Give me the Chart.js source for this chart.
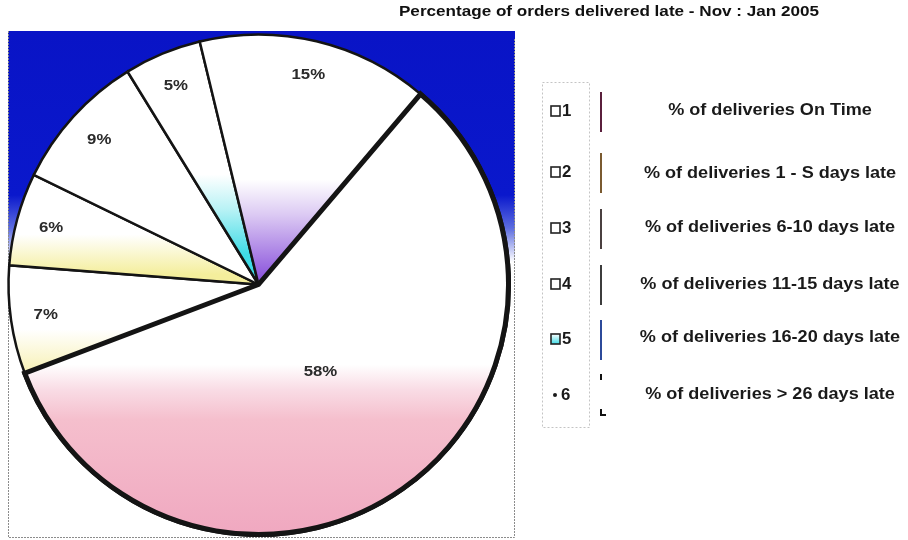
<!DOCTYPE html>
<html>
<head>
<meta charset="utf-8">
<script src="https://cdn.jsdelivr.net/npm/chart.js@4/dist/chart.umd.min.js"></script>
<style>
  html, body { margin: 0; padding: 0; background: #ffffff; }
  #wrap { width: 908px; height: 540px; position: relative; }
  canvas { display: block; }
</style>
</head>
<body>
<div id="wrap"><canvas id="c" width="908" height="540"></canvas></div>
<script>
// ---- data ----
const chartTitle = 'Percentage of orders delivered late - Nov : Jan 2005';
const categories = ['1', '2', '3', '4', '5', '6'];
const seriesLabels = [
  '% of deliveries On Time',
  '% of deliveries 1 - S days late',
  '% of deliveries 6-10 days late',
  '% of deliveries 11-15 days late',
  '% of deliveries 16-20 days late',
  '% of deliveries > 26 days late'
];
const values = [58, 7, 6, 9, 5, 15];
const valueLabels = values.map(v => v + '%');

// ---- styles ----
const FONT = '"Liberation Sans", Arial, Helvetica, sans-serif';
// vertical gradient stops per slice: [k, colour] where y = cy + k * R
const sliceFills = [
  [[0.32, '#ffffff'], [0.42, '#f9dce5'], [0.54, '#f5bfcd'], [1.0, '#f0a8c0']],
  [[0.18, '#ffffff'], [0.40, '#f5eda0']],
  [[-0.20, '#ffffff'], [-0.04, '#f4ee9c']],
  [[0, '#ffffff'], [1, '#ffffff']],
  [[-0.44, '#ffffff'], [-0.30, '#b8f2f5'], [-0.12, '#3edbe6']],
  [[-0.42, '#ffffff'], [-0.28, '#dccaf3'], [-0.02, '#8a52dc']]
];
const sliceBorders = [5, 2.5, 2.5, 2.5, 2.5, 2.5];

function pieGeom(chart) {
  const a = chart.chartArea;
  const cy = (a.top + a.bottom) / 2;
  const R = (Math.min(a.width, a.height) - 5) / 2;
  return { cx: (a.left + a.right) / 2, cy, R };
}

// text drawn with a slight horizontal stretch, like the scanned original
function stretchText(c, text, x, y, align, sx) {
  c.save();
  c.translate(x, y);
  c.scale(sx, 1);
  c.textAlign = align;
  c.fillText(text, 0, 0);
  c.restore();
}

const backdrop = {
  id: 'backdrop',
  beforeDraw(chart) {
    const c = chart.ctx;
    c.save();
    c.fillStyle = '#ffffff';
    c.fillRect(0, 0, chart.width, chart.height);
    const x0 = 8, y0 = 31, x1 = 515, y1 = 538;
    const g = c.createLinearGradient(0, y0, 0, y1);
    const f = (y) => (y - y0) / (y1 - y0);
    g.addColorStop(0, '#0914c6');
    g.addColorStop(f(195), '#0a18cc');
    g.addColorStop(f(228), '#5c6ce0');
    g.addColorStop(f(262), '#ffffff');
    g.addColorStop(1, '#ffffff');
    c.fillStyle = g;
    c.fillRect(x0, y0, x1 - x0, y1 - y0);
    c.setLineDash([2, 1]);
    c.strokeStyle = '#8c8c8c';
    c.lineWidth = 1;
    c.beginPath();
    c.moveTo(x0 + 0.5, y0);
    c.lineTo(x0 + 0.5, y1 - 0.5);
    c.lineTo(x1 - 0.5, y1 - 0.5);
    c.lineTo(x1 - 0.5, y0 + 8);
    c.stroke();
    c.restore();
  },
  afterDatasetsDraw(chart) {
    const c = chart.ctx;
    const meta = chart.getDatasetMeta(0);
    // redraw the main slice so its thick edges sit on top of the neighbours
    meta.data[0].draw(c);
    c.save();
    c.font = 'bold 15px ' + FONT;
    c.fillStyle = '#2a2a2a';
    c.textBaseline = 'middle';
    meta.data.forEach((arc, i) => {
      const p = arc.getProps(['x', 'y', 'startAngle', 'endAngle', 'outerRadius'], true);
      const mid = (p.startAngle + p.endAngle) / 2;
      const r = p.outerRadius * (values[i] > 50 ? 0.43 : 0.86);
      stretchText(c, valueLabels[i], p.x + Math.cos(mid) * r, p.y + Math.sin(mid) * r, 'center', 1.12);
    });
    c.restore();
  },
  afterDraw(chart) {
    const c = chart.ctx;
    c.save();
    c.textBaseline = 'middle';
    // title
    c.font = 'bold 15px ' + FONT;
    c.fillStyle = '#111111';
    stretchText(c, chartTitle, 609, 12, 'center', 1.14);
    // legend frame
    c.setLineDash([2, 2]);
    c.strokeStyle = '#c4c4c4';
    c.lineWidth = 1;
    c.strokeRect(542.5, 82.5, 47, 345);
    c.setLineDash([]);
    const rowY = [111, 172, 228, 284, 339, 395];
    const textY = [111, 174, 228, 285, 338, 395];
    const stubColors = ['#5a1f3c', '#7a5a30', '#4a4040', '#3c3c3c', '#2c4a9a', '#111111'];
    categories.forEach((cat, i) => {
      const y = rowY[i];
      c.fillStyle = '#1a1a1a';
      c.font = 'bold 16px ' + FONT;
      if (i < 5) {
        if (i === 4) {
          const g = c.createLinearGradient(0, y - 5, 0, y + 5);
          g.addColorStop(0, '#ffffff');
          g.addColorStop(1, '#3edbe6');
          c.fillStyle = g;
          c.fillRect(551, y - 5, 9, 10);
        }
        c.strokeStyle = '#222222';
        c.lineWidth = 1.6;
        c.strokeRect(551, y - 5, 9, 10);
        c.fillStyle = '#1a1a1a';
        stretchText(c, cat, 562, y + 1, 'left', 1.05);
      } else {
        c.beginPath();
        c.arc(555, y, 2, 0, Math.PI * 2);
        c.fill();
        stretchText(c, cat, 561, y + 1, 'left', 1.05);
      }
      // stub marks
      c.strokeStyle = stubColors[i];
      c.lineWidth = 2;
      c.beginPath();
      if (i < 5) {
        c.moveTo(601, y - 19);
        c.lineTo(601, y + 21);
      } else {
        c.moveTo(601, y - 21);
        c.lineTo(601, y - 15);
        c.moveTo(601, y + 14);
        c.lineTo(601, y + 20);
        c.lineTo(606, y + 20);
      }
      c.stroke();
      // label
      c.fillStyle = '#1a1a1a';
      c.font = 'bold 16px ' + FONT;
      stretchText(c, seriesLabels[i], 770, textY[i], 'center', 1.13);
    });
    c.restore();
  }
};

new Chart(document.getElementById('c'), {
  type: 'pie',
  data: {
    labels: seriesLabels,
    datasets: [{
      data: values,
      backgroundColor: (ctx) => {
        const chart = ctx.chart;
        if (!chart.chartArea) return '#ffffff';
        const { cy, R } = pieGeom(chart);
        const stops = sliceFills[ctx.dataIndex];
        const k0 = stops[0][0], k1 = stops[stops.length - 1][0];
        const g = chart.ctx.createLinearGradient(0, cy + k0 * R, 0, cy + k1 * R);
        stops.forEach(([k, col]) => g.addColorStop(k1 === k0 ? 0 : (k - k0) / (k1 - k0), col));
        return g;
      },
      borderColor: '#141414',
      borderWidth: sliceBorders,
      borderJoinStyle: 'miter'
    }]
  },
  options: {
    responsive: false,
    animation: false,
    devicePixelRatio: 1,
    rotation: 40.4,
    layout: { padding: { left: 6, top: 32, right: 397, bottom: 3 } },
    plugins: {
      legend: { display: false },
      title: { display: false },
      tooltip: { enabled: false }
    }
  },
  plugins: [backdrop]
});
</script>
</body>
</html>
